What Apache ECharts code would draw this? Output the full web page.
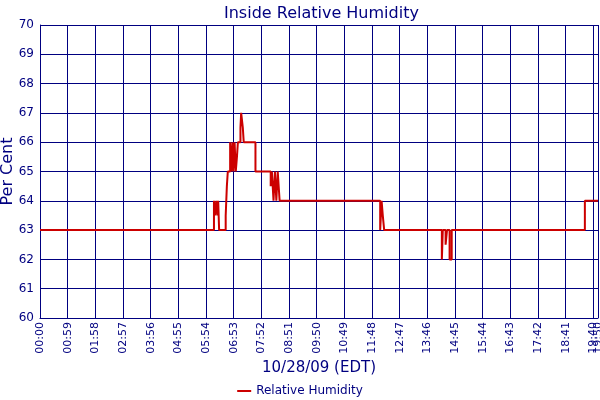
<!DOCTYPE html>
<html>
<head>
<meta charset="utf-8">
<script src="https://cdn.jsdelivr.net/npm/echarts@6/dist/echarts.min.js"></script>
<style>
html,body{margin:0;padding:0;background:#fff;}
#c{width:600px;height:400px;}
</style>
</head>
<body>
<div id="c"></div>
<script>
// Minutes since midnight at which the reading changes, and the reading from then on
var changeMinutes = [0, 371, 373, 376, 378, 380, 382, 396, 398.5, 400.5, 405.5, 408, 410.5, 412.5, 415, 417.5, 420, 422, 427.5, 429, 432.5, 434.5, 459.5, 492, 494.5, 498, 501, 504, 507, 511, 725.5, 728.5, 731, 734, 857, 859, 865, 868, 873.5, 878, 1162, 1190];
var humidity =      [63, 64, 63.5, 64, 63.5, 64, 63, 63.5, 64.5, 65, 66, 65, 66, 65, 66, 65, 65.5, 66, 66.5, 67, 66.5, 66, 65, 64.5, 65, 64, 65, 64, 65, 64, 63, 64, 63.5, 63, 62, 63, 62.5, 63, 62, 63, 64, 64];
var xMin = 0, xMax = 1190, xStep = 59;
var yMin = 60, yMax = 70, yStep = 1;
var titleText = 'Inside Relative Humidity';
var xName = '10/28/09 (EDT)';
var yName = 'Per Cent';
var seriesName = 'Relative Humidity';

var navy = '#000080';
var font = 'DejaVu Sans';
function hhmm(v){
  var m = Math.round(v);
  var h = Math.floor(m/60), mm = m%60;
  return (h<10?'0':'')+h+':'+(mm<10?'0':'')+mm;
}
var lastRegularTick = Math.floor(xMax / xStep) * xStep;
var pts = changeMinutes.map(function(t,i){return [t, humidity[i]];});
var chart = echarts.init(document.getElementById('c'));
chart.setOption({
  animation:false,
  backgroundColor:'#fff',
  title:{text:titleText,left:219,top:1,textStyle:{color:navy,fontSize:16,fontWeight:'normal',fontFamily:font}},
  legend:{data:[seriesName],bottom:-2,left:'center',icon:'rect',itemWidth:14,itemHeight:2,itemGap:4,textStyle:{color:navy,fontSize:12,fontFamily:font}},
  grid:{left:40,right:2,top:25,bottom:82,containLabel:false,outerBoundsMode:'none'},
  xAxis:[{type:'value',min:xMin,max:xMax,interval:xStep,
    name:xName,nameLocation:'middle',nameGap:43,nameMoveOverlap:false,nameTextStyle:{color:navy,fontSize:15,fontFamily:font},
    axisLine:{lineStyle:{color:navy,width:1}},axisTick:{show:false},
    splitLine:{show:true,lineStyle:{color:navy,width:1}},
    axisLabel:{rotate:90,color:navy,fontSize:11,fontFamily:font,margin:4,formatter:hhmm,showMaxLabel:true,showMinLabel:true}},
   {type:'value',min:xMin,max:xMax,interval:xStep,position:'bottom',
    axisLine:{show:false},axisTick:{show:false},splitLine:{show:false},
    axisLabel:{rotate:90,color:navy,fontSize:11,fontFamily:font,margin:4,showMaxLabel:false,showMinLabel:false,
      formatter:function(v){return v===lastRegularTick?hhmm(v):'';}}}],
  yAxis:{type:'value',min:yMin,max:yMax,interval:yStep,
    name:yName,nameLocation:'middle',nameGap:24,nameRotate:90,nameMoveOverlap:false,nameTextStyle:{color:navy,fontSize:16,fontFamily:font},
    axisLine:{show:true,lineStyle:{color:navy,width:1}},axisTick:{show:false},
    splitLine:{show:true,lineStyle:{color:navy,width:1}},
    axisLabel:{color:navy,fontSize:12,fontFamily:font,margin:6}},
  series:[{name:seriesName,type:'line',step:'end',data:pts,showSymbol:false,xAxisIndex:0,
    lineStyle:{color:'#CC0000',width:2},itemStyle:{color:'#CC0000'}}]
});
</script>
</body>
</html>
